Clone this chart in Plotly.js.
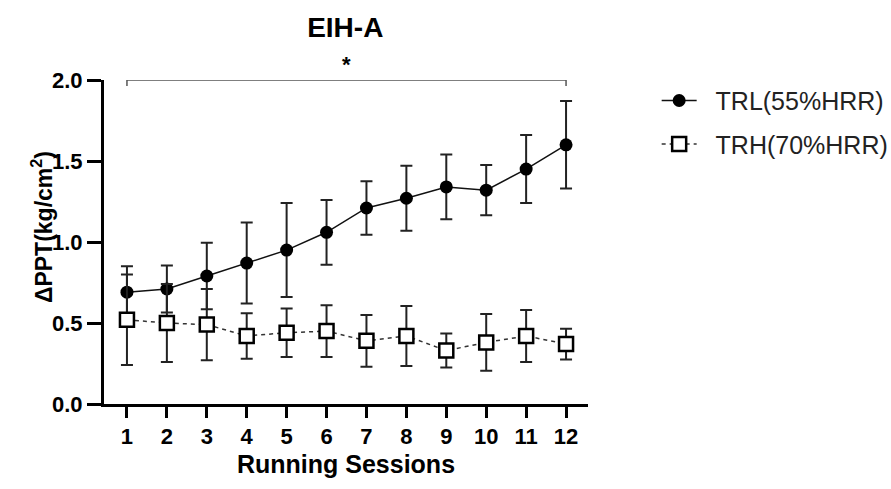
<!DOCTYPE html>
<html>
<head>
<meta charset="utf-8">
<script src="https://cdn.plot.ly/plotly-3.0.1.min.js"></script>
<style>html,body{margin:0;padding:0;background:#fff;}#chart{width:891px;height:489px;}</style>
</head>
<body>
<div id="chart"></div>
<script>
// Data
const sessions = [1,2,3,4,5,6,7,8,9,10,11,12];
const trlMean = [0.69,0.71,0.79,0.87,0.95,1.06,1.21,1.27,1.34,1.32,1.45,1.60];
const trlErr  = [0.16,0.145,0.205,0.25,0.29,0.20,0.165,0.20,0.20,0.155,0.21,0.27];
const trhMean = [0.52,0.50,0.49,0.42,0.44,0.45,0.39,0.42,0.33,0.38,0.42,0.37];
const trhErr  = [0.28,0.24,0.22,0.14,0.15,0.16,0.16,0.185,0.105,0.175,0.16,0.095];
const seriesNames = ['TRL(55%HRR)','TRH(70%HRR)'];
const sigFrom = 1, sigTo = 12, sigY = 2.0, sigLabel = '*';
const yTicks = [0.0,0.5,1.0,1.5,2.0];
const yTickText = ['0.0','0.5','1.0','1.5','2.0'];
const yTitle = 'ΔPPT(kg/cm<sup>2</sup>)';

const FONT = 'Liberation Sans, Arial, sans-serif';
const pad = '\u00a0\u00a0';

const traces = [
  {
    x: sessions, y: trlMean, name: pad + seriesNames[0], type: 'scatter', mode: 'lines+markers',
    legendgroup: 'a',
    line: {color: '#111', width: 1.5},
    marker: {symbol: 'circle', size: 13, color: '#000'},
    error_y: {type: 'data', array: trlErr, visible: true, color: '#222', thickness: 2, width: 6},
    cliponaxis: false
  },
  {
    x: sessions, y: trhMean, name: pad + seriesNames[1], type: 'scatter', mode: 'lines+markers',
    legendgroup: 'b',
    line: {color: '#333', width: 1.5, dash: '4px,4px'},
    marker: {symbol: 'square', size: 14, color: '#fff', line: {color: '#000', width: 2.5}},
    error_y: {type: 'data', array: trhErr, visible: true, color: '#222', thickness: 2, width: 6},
    cliponaxis: false
  }
];

const layout = {
  width: 891, height: 489,
  margin: {l: 104, r: 303, t: 80, b: 85},
  paper_bgcolor: '#fff', plot_bgcolor: '#fff',
  font: {family: FONT, color: '#000'},
  title: {text: '<b>EIH-A</b>', font: {family: FONT, size: 28, color: '#000'}, x: 0.3875, xanchor: 'center', y: 0.945, yanchor: 'middle'},
  xaxis: {
    range: [0.425, 12.55], tickmode: 'array', tickvals: sessions, ticktext: sessions.map(s => '<b>' + s + '</b>'),
    showline: true, linecolor: '#000', linewidth: 3, ticks: 'outside', ticklen: 11, tickwidth: 3, tickcolor: '#000',
    showgrid: false, zeroline: false, tickfont: {family: FONT, size: 22, color: '#000'}, automargin: false,
    title: {text: '<b>Running Sessions</b>', font: {family: FONT, size: 25, color: '#000'}, standoff: 8}
  },
  yaxis: {
    range: [0, 2.0], tickmode: 'array', tickvals: yTicks, ticktext: yTickText.map(t => '<b>' + t + '</b>'),
    showline: true, linecolor: '#000', linewidth: 3, ticks: 'outside', ticklen: 14, tickwidth: 3, tickcolor: '#000',
    showgrid: false, zeroline: false, tickfont: {family: FONT, size: 22, color: '#000'}, automargin: false
  },
  showlegend: true,
  legend: {
    xref: 'container', yref: 'container',
    x: 0.737, xanchor: 'left', y: 0.841, yanchor: 'top',
    font: {family: FONT, size: 25, color: '#222'}, tracegroupgap: 8,
    bgcolor: 'rgba(0,0,0,0)', borderwidth: 0, itemwidth: 35
  },
  shapes: [
    {type: 'line', xref: 'x', yref: 'y', x0: sigFrom, x1: sigTo, y0: sigY, y1: sigY, line: {color: '#555', width: 1.5}},
    {type: 'line', xref: 'x', yref: 'y', ysizemode: 'pixel', yanchor: sigY, x0: sigFrom, x1: sigFrom, y0: -6, y1: 6, line: {color: '#555', width: 1.5}},
    {type: 'line', xref: 'x', yref: 'y', ysizemode: 'pixel', yanchor: sigY, x0: sigTo, x1: sigTo, y0: -6, y1: 6, line: {color: '#555', width: 1.5}}
  ],
  annotations: [
    {xref: 'x', yref: 'y', x: (sigFrom + sigTo) / 2, y: sigY, yshift: 16, text: '<b>' + sigLabel + '</b>', showarrow: false, font: {family: FONT, size: 22, color: '#000'}},
    {xref: 'paper', yref: 'paper', x: 0, y: 0.546, xshift: -62, xanchor: 'center', yanchor: 'middle', textangle: -90,
     text: '<b>' + yTitle + '</b>', showarrow: false, font: {family: FONT, size: 23, color: '#000'}}
  ]
};

Plotly.newPlot('chart', traces, layout, {displayModeBar: false, staticPlot: true});
</script>
</body>
</html>
